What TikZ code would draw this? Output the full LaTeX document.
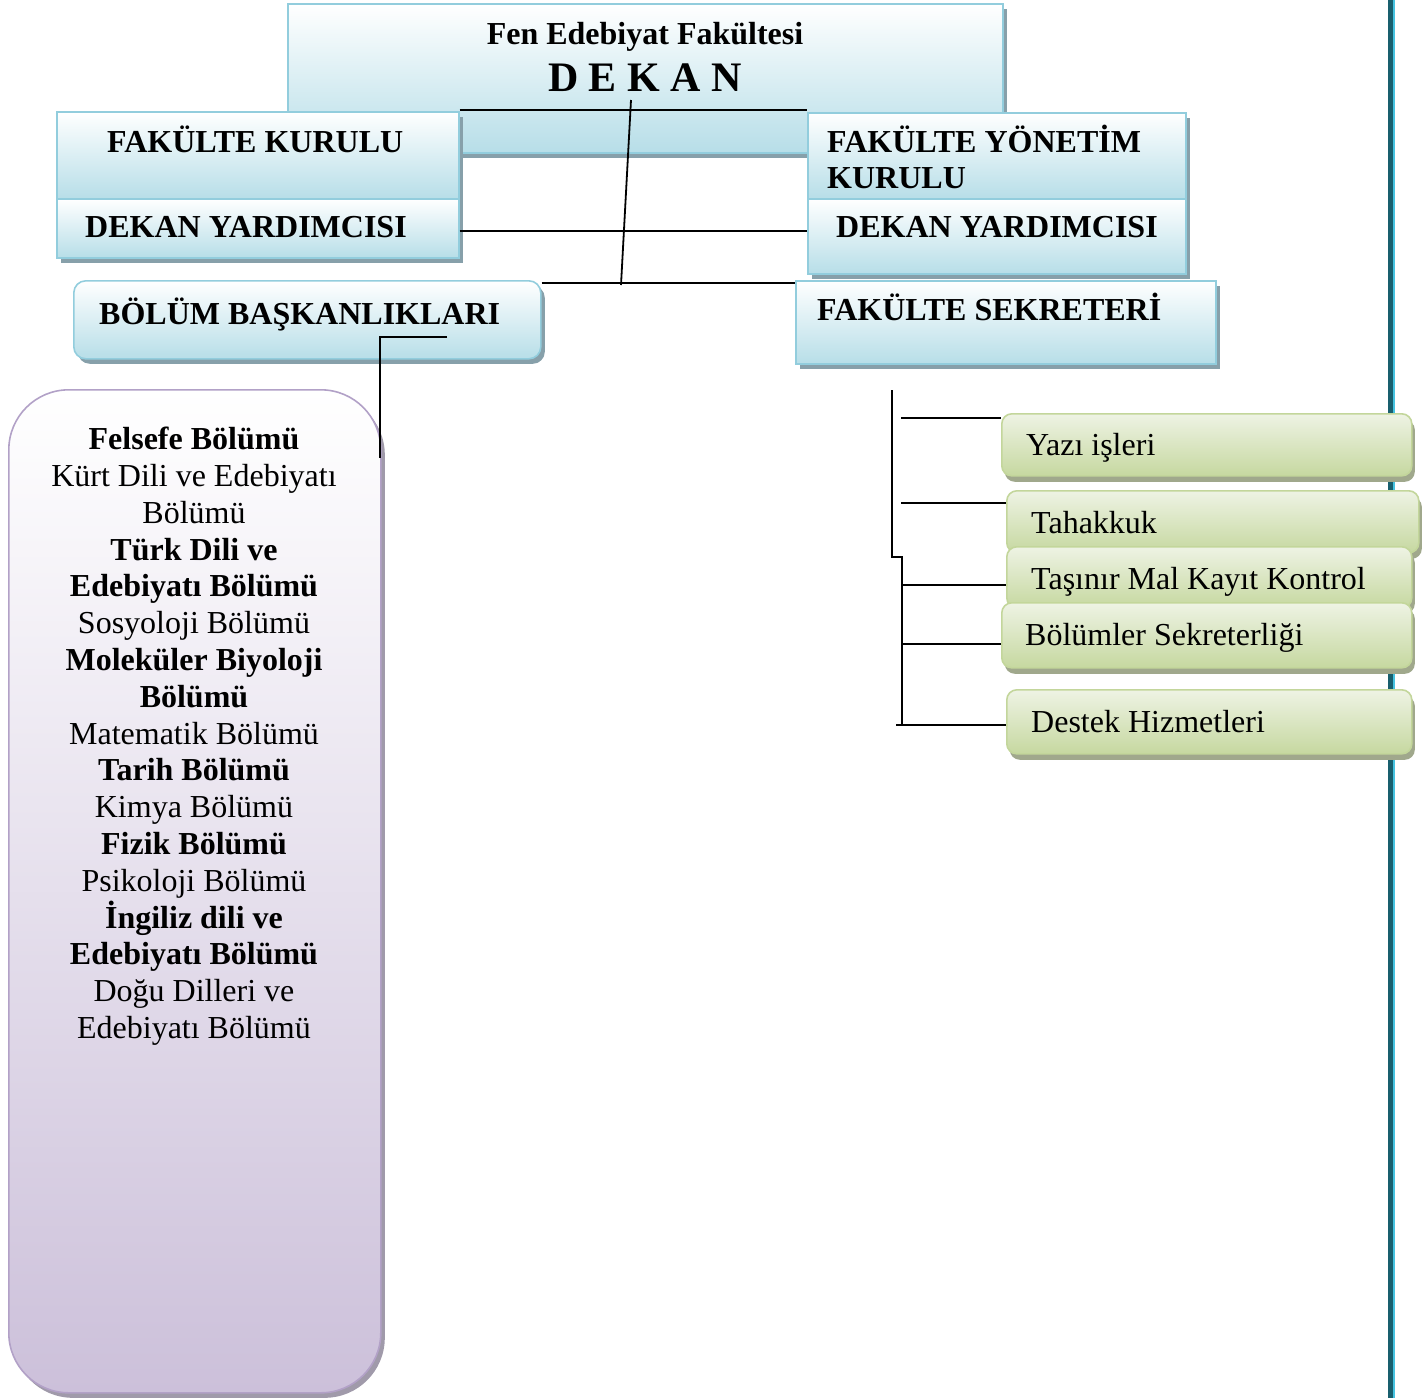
\documentclass[tikz,border=0pt]{standalone}
\usepackage{fontspec}
\setmainfont{Liberation Serif}
\usetikzlibrary{shadows}
\definecolor{blueBorder}{RGB}{146,205,221}
\definecolor{blueFill}{RGB}{183,222,232}
\definecolor{blueShadow}{RGB}{135,160,170}
\definecolor{greenBorder}{RGB}{195,214,155}
\definecolor{greenLight}{RGB}{238,243,228}
\definecolor{greenDark}{RGB}{198,216,160}
\definecolor{greenShadow}{RGB}{160,168,140}
\definecolor{purpleBorder}{RGB}{178,161,199}
\definecolor{purpleFill}{RGB}{204,192,218}
\definecolor{purpleShadow}{RGB}{160,154,170}
\definecolor{tealDark}{RGB}{25,95,110}
\definecolor{tealLight}{RGB}{70,195,225}
\newcommand\szA{\fontsize{32}{36.8}\selectfont}
\newcommand\szB{\fontsize{42}{48}\selectfont}
\begin{document}
\begin{tikzpicture}[x=1pt,y=-1pt,
  bluebox/.style={draw=blueBorder, line width=1.6pt, top color=white, bottom color=blueFill,
    inner sep=0pt, anchor=north west,
    drop shadow={shadow xshift=4pt,shadow yshift=-5pt,fill=blueShadow,opacity=1}},
  greenbox/.style={draw=greenBorder, line width=1.6pt, rounded corners=10pt,
    top color=greenLight, bottom color=greenDark, inner sep=0pt, anchor=north west,
    drop shadow={shadow xshift=3pt,shadow yshift=-6pt,fill=greenShadow,opacity=1}},
  purplebox/.style={draw=purpleBorder, line width=1.6pt, rounded corners=60pt,
    top color=white, bottom color=purpleFill, inner sep=0pt, anchor=north west,
    drop shadow={shadow xshift=4pt,shadow yshift=-5pt,fill=purpleShadow,opacity=1}},
  hdr/.style={font=\szA\bfseries, inner sep=0pt, anchor=base west},
  itm/.style={font=\szA, inner sep=0pt, anchor=base west},
  conn/.style={draw=black, line width=1.8pt}]
\useasboundingbox (0,0) rectangle (1424,1398);
% right page border
\fill[tealDark] (1388,0) rectangle (1393,1398);
\fill[tealLight] (1393,0) rectangle (1395,1398);
% Dekan
\node[bluebox, minimum width=715pt, minimum height=149pt] (dekan) at (287,3) {};
\node[font=\szA\bfseries, inner sep=0pt, anchor=base] (dekan-t1) at (645,44) {Fen Edebiyat Fakültesi};
\node[font=\szB\bfseries, inner sep=0pt, anchor=base] (dekan-t2) at (645,91) {D E K A N};
% left column
\node[bluebox, minimum width=402pt, minimum height=87pt] (fk) at (56,111) {};
\node[hdr] (fk-t) at (107,152) {FAKÜLTE KURULU};
\node[bluebox, minimum width=402pt, minimum height=59pt] (dyl) at (56,198) {};
\node[hdr] (dyl-t) at (85,237) {DEKAN YARDIMCISI};
% right column
\node[bluebox, minimum width=378pt, minimum height=86pt] (fyk) at (807,112) {};
\node[hdr, anchor=north west, align=left] (fyk-t) at (827,125) {FAKÜLTE YÖNETİM\\[-1pt]KURULU};
\node[bluebox, minimum width=378pt, minimum height=75pt] (dyr) at (807,198) {};
\node[hdr] (dyr-t) at (836,237) {DEKAN YARDIMCISI};
% bolum baskanliklari
\node[bluebox, rounded corners=12pt, minimum width=467pt, minimum height=78pt] (bb) at (73,280) {};
\node[hdr] (bb-t) at (99,324) {BÖLÜM BAŞKANLIKLARI};
% fakulte sekreteri
\node[bluebox, minimum width=420pt, minimum height=83pt] (fs) at (795,280) {};
\node[hdr] (fs-t) at (817,320) {FAKÜLTE SEKRETERİ};
% departments box
\node[purplebox, minimum width=372pt, minimum height=1003pt] (dept) at (8,389) {};
\node[font=\szA, inner sep=0pt, align=center, anchor=north] (dept-t) at (194,427) {%
\textbf{Felsefe Bölümü}\\
Kürt Dili ve Edebiyatı\\
Bölümü\\
\textbf{Türk Dili ve}\\
\textbf{Edebiyatı Bölümü}\\
Sosyoloji Bölümü\\
\textbf{Moleküler Biyoloji}\\
\textbf{Bölümü}\\
Matematik Bölümü\\
\textbf{Tarih Bölümü}\\
Kimya Bölümü\\
\textbf{Fizik Bölümü}\\
Psikoloji Bölümü\\
\textbf{İngiliz dili ve}\\
\textbf{Edebiyatı Bölümü}\\
Doğu Dilleri ve\\
Edebiyatı Bölümü};
% connectors at top
\draw[conn] (fk.north east |- 0,110) -- (fyk.north west |- 0,110);
\draw[conn] (dyl.east |- 0,231) -- (dyr.west |- 0,231);
\draw[conn] (bb.north east |- 0,283) -- (fs.west |- 0,283);
\coordinate (stemtop) at (631,100);
\coordinate (stembot) at (621,285);
\draw[conn] (stemtop) -- (stembot);
\coordinate (bbhook) at (447,337);
\coordinate (deptend) at (380,458);
\draw[conn] (bbhook) -- (deptend |- bbhook) -- (deptend);
% right bracket
\coordinate (brtop) at (892,390);
\coordinate (brstep) at (892,557);
\coordinate (brbot) at (902,725);
\draw[conn] (brtop) -- (brstep) -- (brbot |- brstep) -- (brbot);
% green boxes
\node[greenbox, minimum width=410pt, minimum height=62pt] (g1) at (1001,413) {};
\node[itm] (g1-t) at (1026,455) {Yazı işleri};
\node[greenbox, minimum width=412pt, minimum height=62pt] (g2) at (1006,490) {};
\node[itm] (g2-t) at (1031,533) {Tahakkuk};
\node[greenbox, minimum width=405pt, minimum height=61pt] (g3) at (1006,546) {};
\node[itm] (g3-t) at (1031,589) {Taşınır Mal Kayıt Kontrol};
\node[greenbox, minimum width=410pt, minimum height=65pt] (g4) at (1001,602) {};
\node[itm] (g4-t) at (1025,645) {Bölümler Sekreterliği};
\node[greenbox, minimum width=405pt, minimum height=64pt] (g5) at (1006,689) {};
\node[itm] (g5-t) at (1031,732) {Destek Hizmetleri};
\draw[conn] (901,418) -- (g1.west |- 0,418);
\draw[conn] (901,503) -- (g2.west |- 0,503);
\draw[conn] (brbot |- 0,585) -- (g3.west |- 0,585);
\draw[conn] (brbot |- 0,644) -- (g4.west |- 0,644);
\draw[conn] (896,725) -- (g5.west |- 0,725);
\end{tikzpicture}
\end{document}
